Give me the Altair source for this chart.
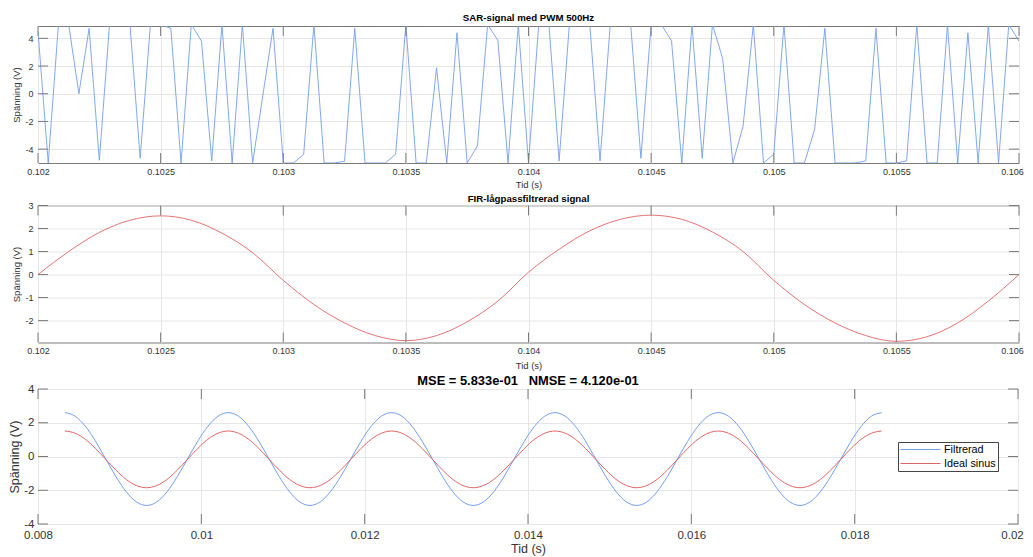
import altair as alt
import pandas as pd

FONT = "Liberation Sans"
BLUE = "#729ef0"
RED = "#e06464"
AXIS_GRAY = "#7a7a7a"
GRID = "#e6e6e6"
TXT = "#333333"

# ---------------- Panel 1: SAR-signal med PWM 500Hz ----------------
sar_fs = 24000
sar_start = 0.102
sar_values = [
    4.5, -5, 5, 5, 0.0, 4.72, -4.8, 5, 5, 5,
    -4.66, 5, 5, 4.72, -5, 5, 3.8, -4.85, 5, -5,
    5, -5, -0.14, 4.72, -5, -5, -4.37, 5, -5, -5,
    -4.87, 4.72, -5, -5, -5, -4.37, 5, -5, -5, 1.87,
    -5, 4.4, -5, -3.77, 5, 3.85, -5, 5, -5, 5,
    5, -4.85, 5, 5, 5, -4.85, 5, 5, 5, -4.66,
    5, 5, 3.8, -5, 5, -4.66, 5, 2.55, -5, -2.33,
    5, -5, -4.37, 5, -5, -5, -2.57, 4.72, -5, -5,
    -5, -4.85, 4.72, -5, -5, -4.85, 5, -5, -5, 5,
    -5, 4.4, -5, 5, -5, 5, 3.8,
]
sar_time = [sar_start + i / sar_fs for i in range(len(sar_values))]
sar_xticks = [0.102, 0.1025, 0.103, 0.1035, 0.104, 0.1045, 0.105, 0.1055, 0.106]
sar_yticks = [-4, -2, 0, 2, 4]
sar_ydomain = [-5, 4.89]

# ---------------- Panel 2: FIR-lågpassfiltrerad signal ----------------
fir_start = 0.102
fir_step = 0.000125
fir_values = [
    0.0, 1.0, 1.83, 2.36, 2.55, 2.36, 1.8, 0.95,
    -0.25, -1.3, -2.1, -2.65, -2.87, -2.65, -2.05, -1.15,
    0.1, 1.1, 1.9, 2.4, 2.58, 2.4, 1.85, 1.0,
    -0.25, -1.3, -2.1, -2.65, -2.9, -2.7, -2.1, -1.15,
    0.0,
]
fir_time = [fir_start + k * fir_step for k in range(len(fir_values))]
fir_xticks = sar_xticks
fir_yticks = [-2, -1, 0, 1, 2, 3]
fir_ydomain = [-2.95, 3]

# ---------------- Panel 3: Filtrerad vs Ideal sinus ----------------
cmp_start = 0.00833
cmp_step = 0.000125
filt_values = [
    2.60, 2.39, 1.79, 0.90, -0.15, -1.20, -2.09, -2.69, -2.90, -2.69, -2.09, -1.20, -0.15, 0.90, 1.79, 2.39,
    2.60, 2.39, 1.79, 0.90, -0.15, -1.20, -2.09, -2.69, -2.90, -2.69, -2.09, -1.20, -0.15, 0.90, 1.79, 2.39,
    2.60, 2.39, 1.79, 0.90, -0.15, -1.20, -2.09, -2.69, -2.90, -2.69, -2.09, -1.20, -0.15, 0.90, 1.79, 2.39,
    2.60, 2.39, 1.79, 0.90, -0.15, -1.20, -2.09, -2.69, -2.90, -2.69, -2.09, -1.20, -0.15, 0.90, 1.79, 2.39,
    2.60, 2.39, 1.79, 0.90, -0.15, -1.20, -2.09, -2.69, -2.90, -2.69, -2.09, -1.20, -0.15, 0.90, 1.79, 2.39,
    2.60,
]
ideal_values = [
    1.51, 1.38, 1.02, 0.47, -0.17, -0.81, -1.36, -1.72, -1.85, -1.72, -1.36, -0.81, -0.17, 0.47, 1.02, 1.38,
    1.51, 1.38, 1.02, 0.47, -0.17, -0.81, -1.36, -1.72, -1.85, -1.72, -1.36, -0.81, -0.17, 0.47, 1.02, 1.38,
    1.51, 1.38, 1.02, 0.47, -0.17, -0.81, -1.36, -1.72, -1.85, -1.72, -1.36, -0.81, -0.17, 0.47, 1.02, 1.38,
    1.51, 1.38, 1.02, 0.47, -0.17, -0.81, -1.36, -1.72, -1.85, -1.72, -1.36, -0.81, -0.17, 0.47, 1.02, 1.38,
    1.51, 1.38, 1.02, 0.47, -0.17, -0.81, -1.36, -1.72, -1.85, -1.72, -1.36, -0.81, -0.17, 0.47, 1.02, 1.38,
    1.51,
]
cmp_time = [cmp_start + k * cmp_step for k in range(len(filt_values))]
series_names = ["Filtrerad", "Ideal sinus"]
cmp_xticks = [0.008, 0.01, 0.012, 0.014, 0.016, 0.018, 0.02]
cmp_yticks = [-4, -2, 0, 2, 4]
cmp_ydomain = [-4, 4]
cmp_xdomain = [0.008, 0.02]

mse_title = "MSE = 5.833e-01\u00a0\u00a0\u00a0NMSE = 4.120e-01"

W1, H1 = 981, 137
W2, H2 = 981, 137
W3, H3 = 980, 135
TICK = 10
LABEL_EXPR = "'' + datum.value"


def x_axis(values, lfs, tfs, lpad, tpad, last_shift):
    last = values[-1] - (values[-1] - values[-2]) * 0.01
    return alt.Axis(values=values, labelExpr=LABEL_EXPR, title="Tid (s)", grid=True, gridColor=GRID,
                    ticks=False, domain=False, labelFlush=False, labelOverlap=False,
                    labelOffset={"condition": {"test": "datum.value >= %r" % last, "value": last_shift},
                                 "value": 0},
                    labelFontSize=lfs, titleFontSize=tfs, labelPadding=lpad, titlePadding=tpad,
                    labelColor=TXT, titleColor=TXT, titleFontWeight="normal", labelFont=FONT,
                    titleFont=FONT, tickCount=len(values))


def y_axis(values, lfs, tfs, lpad, tpad):
    return alt.Axis(values=values, labelExpr=LABEL_EXPR, title="Spänning (V)", grid=True, gridColor=GRID,
                    ticks=False, domain=False, labelFlush=False, labelOverlap=False,
                    labelFontSize=lfs, titleFontSize=tfs, labelPadding=lpad, titlePadding=tpad,
                    labelColor=TXT, titleColor=TXT, titleFontWeight="normal", labelFont=FONT,
                    titleFont=FONT, tickCount=len(values))


def make_panel(df, line_mark, xenc, yenc, extra_enc, xticks, yticks, W, H, title):
    line = alt.Chart(df).mark_line(**line_mark).encode(x=xenc, y=yenc, **extra_enc)
    xt = pd.DataFrame({"t": xticks})
    yt = pd.DataFrame({"v": yticks})
    bx = alt.Chart(xt).mark_rule(color=AXIS_GRAY, strokeWidth=1)
    by = alt.Chart(yt).mark_rule(color=AXIS_GRAY, strokeWidth=1)
    layers = [
        line,
        bx.encode(x=xenc, y=alt.value(H), y2=alt.value(H - TICK)),
        bx.encode(x=xenc, y=alt.value(0), y2=alt.value(TICK)),
        by.encode(y=yenc, x=alt.value(0), x2=alt.value(TICK)),
        by.encode(y=yenc, x=alt.value(W), x2=alt.value(W - TICK)),
    ]
    return alt.layer(*layers).properties(width=W, height=H, title=title)


# Panel 1
x1 = alt.X("t:Q", scale=alt.Scale(domain=[0.102, 0.106], nice=False, zero=False),
           axis=x_axis(sar_xticks, 9, 9.5, 4, 3, -7))
y1 = alt.Y("v:Q", scale=alt.Scale(domain=sar_ydomain, nice=False, zero=False),
           axis=y_axis(sar_yticks, 9, 9.5, 5, 3))
p1 = make_panel(pd.DataFrame({"t": sar_time, "v": sar_values}),
                dict(color=BLUE, strokeWidth=0.9, clip=True), x1, y1, {},
                sar_xticks, sar_yticks, W1, H1,
                alt.TitleParams("SAR-signal med PWM 500Hz", fontSize=9.7, fontWeight="bold",
                                font=FONT, color="black", offset=2.5, frame="group"))

# Panel 2
x2 = alt.X("t:Q", scale=alt.Scale(domain=[0.102, 0.106], nice=False, zero=False),
           axis=x_axis(fir_xticks, 9, 9.5, 4, 5, -7))
y2 = alt.Y("v:Q", scale=alt.Scale(domain=fir_ydomain, nice=False, zero=False),
           axis=y_axis(fir_yticks, 9, 9.5, 5, 3))
p2 = make_panel(pd.DataFrame({"t": fir_time, "v": fir_values}),
                dict(color=RED, strokeWidth=0.9, clip=True, interpolate="monotone"), x2, y2, {},
                fir_xticks, fir_yticks, W2, H2,
                alt.TitleParams("FIR-lågpassfiltrerad signal", fontSize=9.7, fontWeight="bold",
                                font=FONT, color="black", offset=1, dy=3, frame="group"))

# Panel 3
df3 = pd.DataFrame({
    "t": cmp_time + cmp_time,
    "v": filt_values + ideal_values,
    "s": [series_names[0]] * len(cmp_time) + [series_names[1]] * len(cmp_time),
})
x3 = alt.X("t:Q", scale=alt.Scale(domain=cmp_xdomain, nice=False, zero=False),
           axis=x_axis(cmp_xticks, 11.5, 12.5, 5, 2, -6))
y3 = alt.Y("v:Q", scale=alt.Scale(domain=cmp_ydomain, nice=False, zero=False),
           axis=y_axis(cmp_yticks, 11.5, 12.5, 4, 2))
c3 = alt.Color("s:N", scale=alt.Scale(domain=series_names, range=[BLUE, RED]),
               legend=alt.Legend(orient="none", legendX=860, legendY=416, title=None,
                                 symbolType="M-1,0H7", symbolSize=100, symbolStrokeWidth=1,
                                 labelOffset=33, labelFontSize=10.8, labelFont=FONT,
                                 labelColor="black", strokeColor="#444444", fillColor="white",
                                 padding=2, rowPadding=2))
p3 = make_panel(df3, dict(strokeWidth=1, clip=True, interpolate="monotone"), x3, y3, {"color": c3},
                cmp_xticks, cmp_yticks, W3, H3,
                alt.TitleParams(mse_title, fontSize=12.9, fontWeight="bold",
                                font=FONT, color="black", offset=0, dy=5, frame="group"))

chart = alt.vconcat(p1, p2, p3, spacing=3.5).configure(
    font=FONT, padding={"left": 0, "top": 4, "right": 0, "bottom": 0}
).configure_view(stroke=AXIS_GRAY, strokeWidth=1)

chart.save("out.html", embed_options={"renderer": "svg", "actions": False})
